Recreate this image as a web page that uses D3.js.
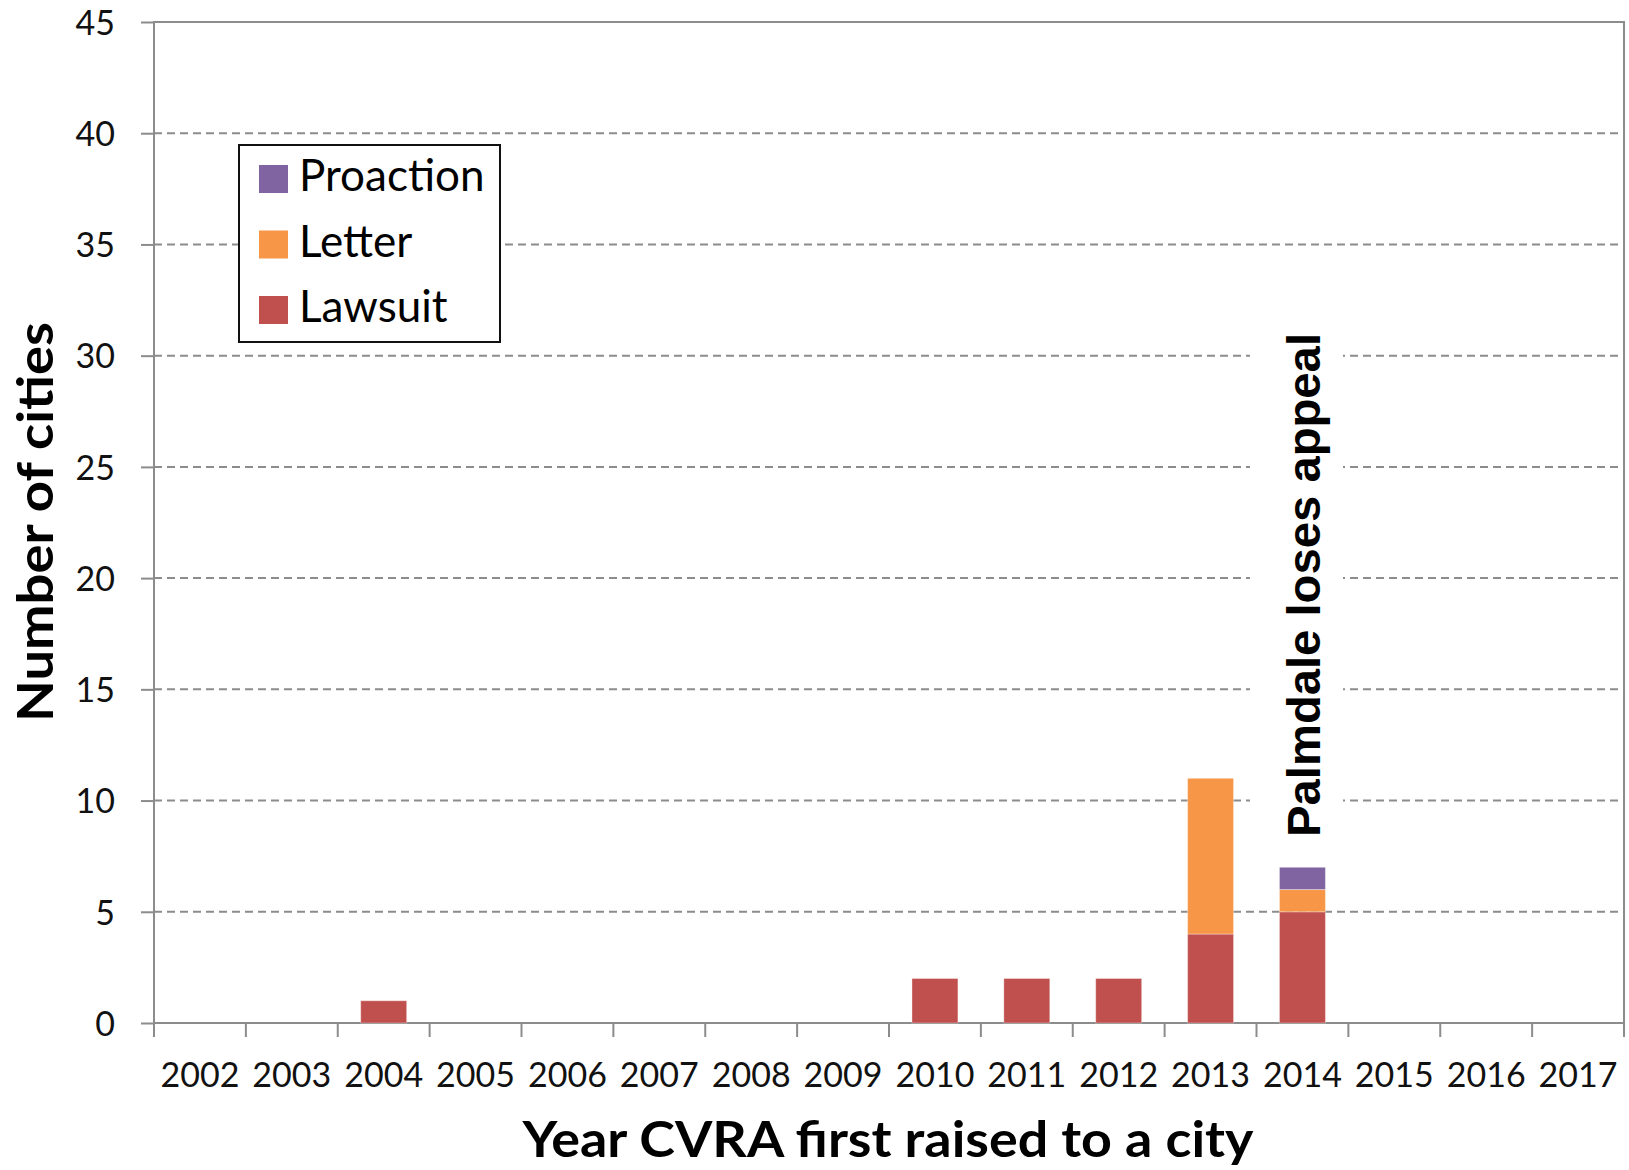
<!DOCTYPE html>
<html>
<head>
<meta charset="utf-8">
<script src="https://cdn.jsdelivr.net/npm/d3@7"></script>
<style>
  body { margin: 0; background: #fff; }
  svg { display: block; }
  text { font-family: Lato, "Open Sans", sans-serif; }
</style>
</head>
<body>
<svg id="chart" width="1629" height="1170"></svg>
<script>
// DATA
const years = ['2002', '2003', '2004', '2005', '2006', '2007', '2008', '2009',
  '2010', '2011', '2012', '2013', '2014', '2015', '2016', '2017'];
const lawsuit = [0, 0, 1, 0, 0, 0, 0, 0, 2, 2, 2, 4, 5, 0, 0, 0];
const letter = [0, 0, 0, 0, 0, 0, 0, 0, 0, 0, 0, 7, 1, 0, 0, 0];
const proaction = [0, 0, 0, 0, 0, 0, 0, 0, 0, 0, 0, 0, 1, 0, 0, 0];
const seriesNames = ['Lawsuit', 'Letter', 'Proaction'];
const seriesColors = ['#C0504D', '#F79646', '#8064A2'];
const yTicks = [0, 5, 10, 15, 20, 25, 30, 35, 40, 45];
const annotation = { year: '2014', text: 'Palmdale loses appeal' };

const rows = years.map((y, i) => ({
  year: y, Lawsuit: lawsuit[i], Letter: letter[i], Proaction: proaction[i],
}));

// LAYOUT
const svg = d3.select('#chart');
const plotLeft = 154, plotRight = 1624, plotTop = 22, plotBottom = 1023;
const axisColor = '#8c8c8c';

const x = d3.scaleBand().domain(years).range([plotLeft, plotRight])
  .paddingInner(0.5).paddingOuter(0.25);
const xEdge = d3.scaleLinear().domain([0, years.length]).range([plotLeft, plotRight]);
const y = d3.scaleLinear().domain([0, 45]).range([plotBottom, plotTop]);
const color = d3.scaleOrdinal().domain(seriesNames).range(seriesColors);

// gridlines (dashed)
svg.append('g').selectAll('line.grid')
  .data(yTicks.filter((t) => t > 0 && t < 45))
  .join('line')
  .attr('class', 'grid')
  .attr('x1', plotLeft).attr('x2', plotRight)
  .attr('y1', (d) => y(d)).attr('y2', (d) => y(d))
  .attr('stroke', axisColor).attr('stroke-width', 2)
  .attr('stroke-dasharray', '8,5');

// white box behind the annotation
svg.append('rect').attr('x', 1250).attr('y', 318).attr('width', 93).attr('height', 524)
  .attr('fill', '#fff');

// y axis
const yAxis = svg.append('g')
  .attr('transform', `translate(${plotLeft},0)`)
  .call(d3.axisLeft(y).tickValues(yTicks).tickSize(13).tickPadding(26).tickFormat(d3.format('d')));
yAxis.select('.domain').remove();
yAxis.selectAll('line').attr('stroke', axisColor).attr('stroke-width', 2);
yAxis.selectAll('text').attr('font-size', 34).attr('fill', '#111')
  .attr('dy', '0.36em');

// plot border
svg.append('rect')
  .attr('x', plotLeft).attr('y', plotTop)
  .attr('width', plotRight - plotLeft).attr('height', plotBottom - plotTop)
  .attr('fill', 'none').attr('stroke', axisColor).attr('stroke-width', 2);

// x tick marks on band edges
svg.append('g').selectAll('line')
  .data(d3.range(years.length + 1))
  .join('line')
  .attr('x1', (d) => xEdge(d)).attr('x2', (d) => xEdge(d))
  .attr('y1', plotBottom).attr('y2', plotBottom + 14)
  .attr('stroke', axisColor).attr('stroke-width', 2);

svg.append('g').selectAll('text')
  .data(years)
  .join('text')
  .attr('x', (d) => x(d) + x.bandwidth() / 2)
  .attr('y', 1087)
  .attr('text-anchor', 'middle')
  .attr('font-size', 34)
  .attr('fill', '#111')
  .text((d) => d);

// stacked bars
const stacked = d3.stack().keys(seriesNames)(rows);
svg.append('g').selectAll('g')
  .data(stacked)
  .join('g')
  .attr('fill', (d) => color(d.key))
  .selectAll('rect')
  .data((d) => d.filter((v) => v[1] - v[0] > 0))
  .join('rect')
  .attr('x', (d) => x(d.data.year))
  .attr('width', x.bandwidth())
  .attr('y', (d) => y(d[1]))
  .attr('height', (d) => y(d[0]) - y(d[1]))
  .attr('stroke', 'rgba(255,255,255,0.35)')
  .attr('stroke-width', 1);

// annotation
const ax = x(annotation.year) + x.bandwidth() / 2 + 18;
svg.append('text')
  .attr('transform', `translate(${ax},837) rotate(-90)`)
  .style('font-family', '"Liberation Sans", Arial, sans-serif')
  .attr('font-weight', 'bold')
  .attr('font-size', 47)
  .attr('fill', '#000')
  .attr('textLength', 504)
  .attr('lengthAdjust', 'spacingAndGlyphs')
  .text(annotation.text);

// legend
const legend = svg.append('g');
legend.append('rect')
  .attr('x', 239).attr('y', 145).attr('width', 261).attr('height', 197)
  .attr('fill', '#fff').attr('stroke', '#111').attr('stroke-width', 2);
const legendOrder = ['Proaction', 'Letter', 'Lawsuit'];
const li = legend.selectAll('g.item')
  .data(legendOrder)
  .join('g')
  .attr('class', 'item')
  .attr('transform', (d, i) => `translate(259,${165 + i * 65.5})`);
li.append('rect')
  .attr('width', 29).attr('height', 28)
  .attr('fill', (d) => color(d));
li.append('text')
  .attr('x', 40).attr('y', 26)
  .attr('font-size', 44)
  .attr('fill', '#000')
  .text((d) => d);

// axis titles
svg.append('text')
  .attr('x', 888).attr('y', 1157)
  .attr('text-anchor', 'middle')
  .attr('font-weight', 'bold')
  .attr('font-size', 50)
  .attr('fill', '#000')
  .attr('textLength', 731)
  .attr('lengthAdjust', 'spacingAndGlyphs')
  .text('Year CVRA first raised to a city');

svg.append('text')
  .attr('transform', 'translate(53,522) rotate(-90)')
  .attr('text-anchor', 'middle')
  .attr('font-weight', 'bold')
  .attr('font-size', 50)
  .attr('fill', '#000')
  .attr('textLength', 400)
  .attr('lengthAdjust', 'spacingAndGlyphs')
  .text('Number of cities');
</script>
</body>
</html>
